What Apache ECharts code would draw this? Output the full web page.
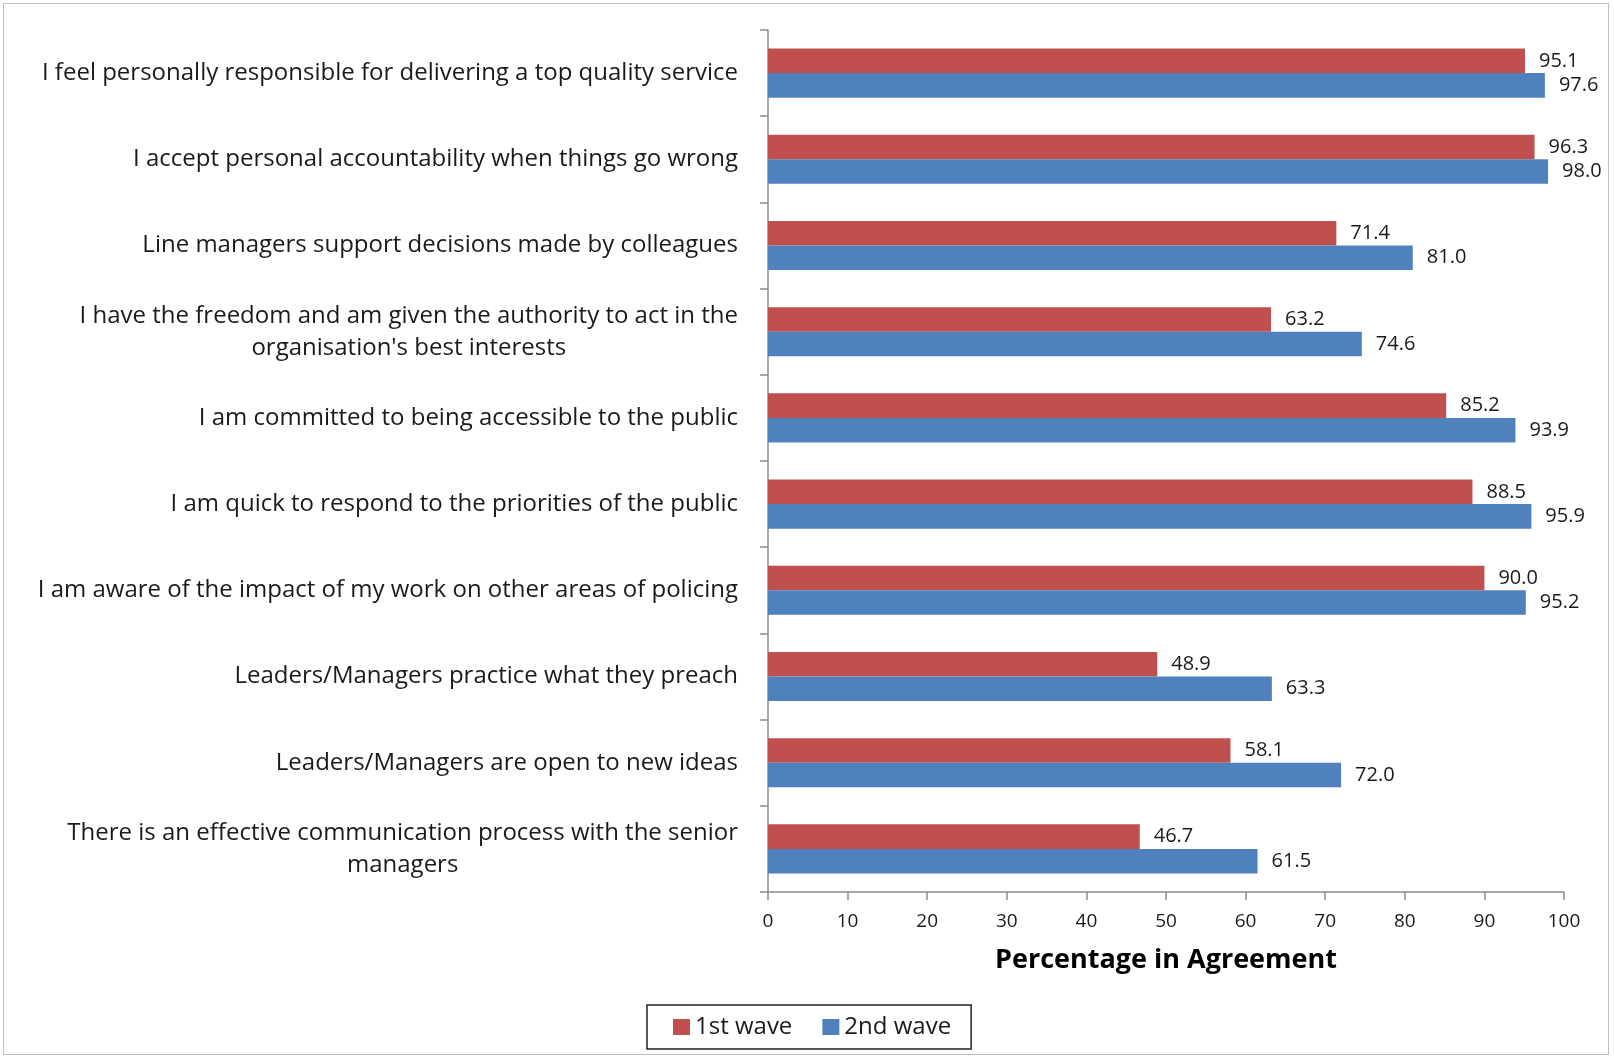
<!DOCTYPE html>
<html>
<head>
<meta charset="utf-8">
<script src="https://cdn.jsdelivr.net/npm/echarts@6/dist/echarts.min.js"></script>
<style>
html,body{margin:0;padding:0;background:#fff;}
#frame{position:absolute;left:3px;top:3px;width:1606px;height:1052px;border:1px solid #bfbfbf;box-sizing:border-box;}
#chart{position:absolute;left:0;top:0;width:1614px;height:1060px;}
</style>
</head>
<body>
<div id="frame"></div>
<div id="chart"></div>
<script>
const categories = [
  "I feel personally responsible for delivering a top quality service",
  "I accept personal accountability when things go wrong",
  "Line managers support decisions made by colleagues",
  "I have the freedom and am given the authority to act in the\norganisation's best interests",
  "I am committed to being accessible to the public",
  "I am quick to respond to the priorities of the public",
  "I am aware of the impact of my work on other areas of policing",
  "Leaders/Managers practice what they preach",
  "Leaders/Managers are open to new ideas",
  "There is an effective communication process with the senior\nmanagers"
];
const wave1 = [95.1, 96.3, 71.4, 63.2, 85.2, 88.5, 90.0, 48.9, 58.1, 46.7];
const wave2 = [97.6, 98.0, 81.0, 74.6, 93.9, 95.9, 95.2, 63.3, 72.0, 61.5];
const seriesNames = ["1st wave", "2nd wave"];
const xTicks = {min: 0, max: 100, interval: 10};

const FONT = 'Open Sans';
const chart = echarts.init(document.getElementById('chart'));
const labelStyle = {
  show: true, position: 'right', distance: 14,
  color: '#1a1a1a', fontFamily: FONT, fontSize: 20,
  formatter: p => p.value.toFixed(1)
};
chart.setOption({
  animation: false,
  textStyle: {fontFamily: FONT},
  grid: {left: 768, right: 50, top: 30, bottom: 168, containLabel: false},
  legend: {
    data: seriesNames,
    left: 647, top: 1005,
    orient: 'horizontal',
    itemWidth: 17, itemHeight: 16, itemGap: 30,
    borderColor: '#222', borderWidth: 1.5,
    padding: [10, 20, 10, 26],
    textStyle: {fontFamily: FONT, fontSize: 24, color: '#1a1a1a'},
    icon: 'rect'
  },
  xAxis: {
    type: 'value', min: xTicks.min, max: xTicks.max, interval: xTicks.interval,
    name: 'Percentage in Agreement', nameLocation: 'middle', nameGap: 55,
    nameTextStyle: {fontFamily: FONT, fontWeight: 'bold', fontSize: 27, color: '#000'},
    axisLine: {show: true, lineStyle: {color: '#8c8c8c', width: 1.5}},
    axisTick: {show: true, length: 8, lineStyle: {color: '#8c8c8c', width: 1.5}},
    axisLabel: {margin: 20, fontFamily: FONT, fontSize: 19, color: '#1a1a1a'},
    splitLine: {show: false}
  },
  yAxis: {
    type: 'category', data: categories, inverse: true,
    axisLine: {show: true, lineStyle: {color: '#8c8c8c', width: 1.5}},
    axisTick: {show: true, length: 8, lineStyle: {color: '#8c8c8c', width: 1.5}},
    axisLabel: {
      margin: 30, fontFamily: FONT, fontSize: 24, color: '#1a1a1a', lineHeight: 32,
      formatter: v => v.split('\n').map(l => '{c|' + l + '}').join('\n'),
      rich: {c: {align: 'center', fontFamily: FONT, fontSize: 24, color: '#1a1a1a', lineHeight: 32}}
    },
    splitLine: {show: false}
  },
  series: [
    {name: seriesNames[0], type: 'bar', data: wave1, barGap: '0%', barCategoryGap: '43%',
     itemStyle: {color: '#C0504D'}, label: labelStyle},
    {name: seriesNames[1], type: 'bar', data: wave2, barGap: '0%', barCategoryGap: '43%',
     itemStyle: {color: '#4F81BD'}, label: labelStyle}
  ]
});
</script>
</body>
</html>
